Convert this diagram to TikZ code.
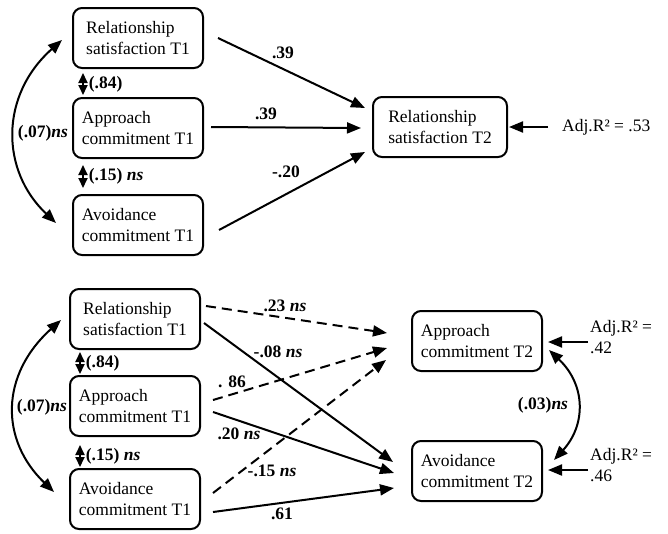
\documentclass[tikz,border=0pt]{standalone}
\usepackage{fontspec}
\setmainfont{Liberation Serif}
\usetikzlibrary{arrows.meta,calc}
\begin{document}
\begin{tikzpicture}[x=1pt,y=-1pt,
  box/.style={draw, line width=2pt, rounded corners=9pt, minimum width=130pt, minimum height=60pt, align=left, inner sep=0pt, font=\fontsize{17.5}{21}\selectfont},
  lbl/.style={font=\fontsize{17.5}{21}\selectfont\bfseries, inner sep=0pt},
  txt/.style={font=\fontsize{17.5}{21}\selectfont, inner sep=0pt, align=left},
  arr/.style={line width=2pt, -{Triangle[length=14pt,width=11pt]}},
  darr/.style={line width=2pt, {Triangle[length=14pt,width=11pt]}-{Triangle[length=14pt,width=11pt]}},
  sarr/.style={line width=1.8pt, {Triangle[length=10pt,width=9pt]}-{Triangle[length=10pt,width=9pt]}},
  dsh/.style={dash pattern=on 10pt off 6pt}
]
\useasboundingbox (0,0) rectangle (668,533);
\fill[white] (0,0) rectangle (668,533);

% ---------- top panel ----------
\node[box] (rs1) at (138,38) {Relationship\\satisfaction T1};
\node[box] (ac1) at (138,128) {Approach\\commitment T1};
\node[box] (av1) at (138,225) {Avoidance\\commitment T1};
\node[box, minimum width=134pt] (rs2) at (440,127) {Relationship\\satisfaction T2};
\node[txt, anchor=west] (adj1) at (562,127) {Adj.R² = .53};

\draw[arr] ([shift={(14,0)}]rs1.east) -- ([shift={(-7,-19)}]rs2.west);
\draw[arr] ([shift={(7,-1)}]ac1.east) -- ([shift={(-11,1)}]rs2.west);
\draw[arr] ([shift={(15,5)}]av1.east) -- ([shift={(-7,25)}]rs2.west);
\draw[arr] ([shift={(-14,0)}]adj1.west) -- ([shift={(1,0)}]rs2.east);

\node[lbl] (l1) at (283,53) {.39};
\node[lbl] (l2) at (266,114) {.39};
\node[lbl] (l3) at (286,172) {-.20};

\draw[sarr] ([shift={(-55,4)}]rs1.south) -- ([shift={(-55,-2)}]ac1.north)
  node[lbl, midway, anchor=west, xshift=5pt] (c1) {(.84)};
\draw[sarr] ([shift={(-55,6)}]ac1.south) -- ([shift={(-55,-6)}]av1.north)
  node[lbl, midway, anchor=west, xshift=5pt] (c2) {(.15) \textit{ns}};

\draw[darr] ([shift={(-10,2)}]rs1.west) .. controls (0,95) and (0,170) .. ([shift={(-16,-2)}]av1.west);
\node[lbl] (c3) at (43,133) {(.07)\textit{ns}};

% ---------- bottom panel ----------
\node[box] (rs1b) at (135,319) {Relationship\\satisfaction T1};
\node[box] (ac1b) at (135,406) {Approach\\commitment T1};
\node[box] (av1b) at (135,499) {Avoidance\\commitment T1};
\node[box] (ac2) at (477,341) {Approach\\commitment T2};
\node[box] (av2) at (477,471) {Avoidance\\commitment T2};
\node[txt, anchor=west] (adj2) at (590,337) {Adj.R² =\\.42};
\node[txt, anchor=west] (adj3) at (590,465) {Adj.R² =\\.46};

\draw[arr, dsh] ([shift={(5,-13)}]rs1b.east) -- ([shift={(-24,-8)}]ac2.west);
\draw[arr, dsh] ([shift={(12,-6)}]ac1b.east) -- ([shift={(-24,7)}]ac2.west);
\draw[arr, dsh] ([shift={(12,-6)}]av1b.east) -- ([shift={(-25,19)}]ac2.west);
\draw[arr] ([shift={(3,4)}]rs1b.east) -- ([shift={(-18,-9)}]av2.west);
\draw[arr] ([shift={(12,6)}]ac1b.east) -- ([shift={(-17,2)}]av2.west);
\draw[arr] ([shift={(12,13)}]av1b.east) -- ([shift={(-17,17)}]av2.west);

\draw[arr] ([shift={(-2,5)}]adj2.west) -- ([shift={(5,1)}]ac2.east);
\draw[arr] ([shift={(-2,5)}]adj3.west) -- ([shift={(5,-1)}]av2.east);

\node[lbl] (m1) at (285,306) {.23 \textit{ns}};
\node[lbl] (m2) at (278,352) {-.08 \textit{ns}};
\node[lbl] (m3) at (232,382) {. 86};
\node[lbl] (m4) at (239,434) {.20 \textit{ns}};
\node[lbl] (m5) at (272,471) {-.15 \textit{ns}};
\node[lbl] (m6) at (282,514) {.61};

\draw[sarr] ([shift={(-55,2)}]rs1b.south) -- ([shift={(-55,-1)}]ac1b.north)
  node[lbl, midway, anchor=west, xshift=5pt] (c4) {(.84)};
\draw[sarr] ([shift={(-55,8)}]ac1b.south) -- ([shift={(-55,-1)}]av1b.north)
  node[lbl, midway, anchor=west, xshift=5pt] (c5) {(.15) \textit{ns}};

\draw[darr] ([shift={(-8,1)}]rs1b.west) .. controls (0,375) and (0,440) .. ([shift={(-15,-7)}]av1b.west);
\node[lbl] (c6) at (42,407) {(.07)\textit{ns}};

\draw[darr] ([shift={(6,9)}]ac2.east) .. controls (586,385) and (586,425) .. ([shift={(11,-11)}]av2.east);
\node[lbl] (c7) at (543,405) {(.03)\textit{ns}};
\end{tikzpicture}
\end{document}
